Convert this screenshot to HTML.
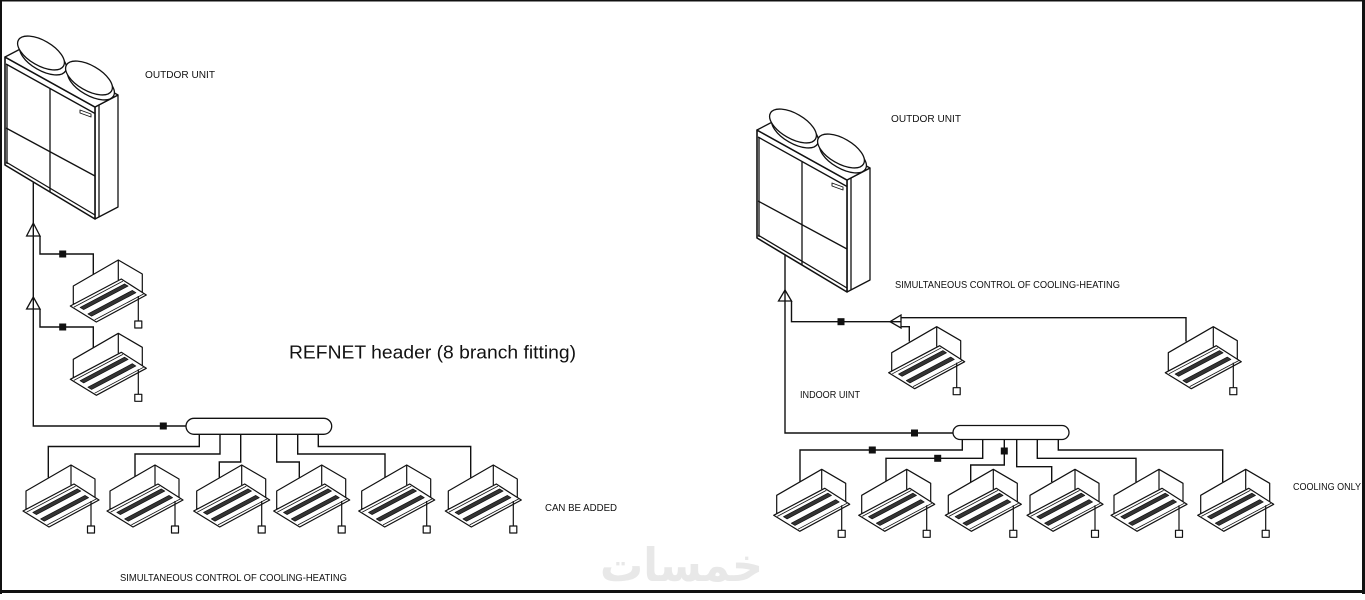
<!DOCTYPE html>
<html>
<head>
<meta charset="utf-8">
<style>
  html,body{margin:0;padding:0;background:#fff;}
  svg{display:block;}
  text{font-family:"Liberation Sans","DejaVu Sans",sans-serif;fill:#111;}
</style>
</head>
<body>
<svg width="1365" height="600" viewBox="0 0 1365 600" xmlns="http://www.w3.org/2000/svg">
  <rect x="0" y="0" width="1365" height="600" fill="#fff"/>
  <defs>
    <!-- Indoor (cassette) unit, origin = top vertex -->
    <g id="iu" stroke="#111" stroke-width="1.2" stroke-linejoin="round">
      <polygon points="-45,26 0,0 24,14 24,34 -45,44" fill="#fff"/>
      <line x1="0" y1="0" x2="0" y2="20" fill="none"/>
      <polygon points="-48,46 3,19 28,35 -22,62" fill="#fff"/>
      <line x1="-44.4" y1="47.1" x2="4.6" y2="21.1" stroke-width="0.8"/>
      <line x1="-23.6" y1="59.9" x2="25.4" y2="33.9" stroke-width="0.8"/>
      <polygon points="-38.2,47.4 6.2,23.9 9.8,26.1 -34.6,49.6" fill="#333" stroke-width="0.7"/>
      <polygon points="-30.4,53.9 14,30.4 17.6,32.7 -26.7,56.2" fill="#333" stroke-width="0.7"/>
      <line x1="20" y1="36" x2="20" y2="61" fill="none"/>
      <rect x="16.5" y="61" width="7" height="7" fill="#fff"/>
    </g>
    <!-- Outdoor unit -->
    <g id="ou" stroke="#111" stroke-width="1.3" stroke-linejoin="round" fill="#fff">
      <polygon points="95,107 118,95 118,207 95,219"/>
      <line x1="99" y1="105" x2="99" y2="217"/>
      <polygon points="5,57 95,107 95,219 5,165" stroke-width="1.6"/>
      <polygon points="5,57 28,45 118,95 95,107"/>
      <line x1="6" y1="64" x2="95" y2="113.5"/>
      <line x1="6" y1="162" x2="95" y2="215"/>
      <line x1="7" y1="64" x2="7" y2="164"/>
      <line x1="50" y1="89" x2="50" y2="191.5"/>
      <line x1="6" y1="128" x2="95" y2="176"/>
      <polygon points="80,110 91,114 91,117 80,113" stroke-width="0.9"/>
      <ellipse cx="43" cy="58" rx="26" ry="12.5" transform="rotate(30 43 58)"/>
      <ellipse cx="41" cy="53" rx="26" ry="12.5" transform="rotate(30 41 53)"/>
      <ellipse cx="91" cy="83" rx="26" ry="12.5" transform="rotate(30 91 83)"/>
      <ellipse cx="89" cy="78" rx="26" ry="12.5" transform="rotate(30 89 78)"/>
    </g>
  </defs>

  <!-- frame -->
  <rect x="0" y="0" width="2" height="594" fill="#111"/>
  <rect x="1362" y="0" width="3" height="594" fill="#111"/>
  <rect x="0" y="590" width="1365" height="3" fill="#111"/>
  <rect x="0" y="0" width="1365" height="1.5" fill="#111"/>

  <!-- watermark -->
  <text x="600" y="581" font-size="46" font-weight="bold" textLength="163" lengthAdjust="spacingAndGlyphs" style="fill:#e8e8e8;font-family:'DejaVu Sans',sans-serif;">خمسات</text>

  <!-- ============ LEFT SYSTEM ============ -->
  <g stroke="#111" stroke-width="1.4" fill="none">
    <polyline points="33.3,181 33.3,426 186,426"/>
    <polyline points="40,236 40,254 93.3,254 93.3,274.4"/>
    <polyline points="40,309 40,327 93.3,327 93.3,347.7"/>
    <polyline points="199.3,434 199.3,446.5 48.3,446.5 48.3,477.5"/>
    <polyline points="220,434 220,454 135,454 135,477.5"/>
    <polyline points="240.7,434 240.7,462 219.3,462 219.3,477.5"/>
    <polyline points="276.7,434 276.7,462 299.3,462 299.3,477.5"/>
    <polyline points="297.7,434 297.7,454 385,454 385,477.5"/>
    <polyline points="318.3,434 318.3,446.5 470.7,446.5 470.7,477.5"/>
  </g>
  <polygon points="33.3,223 40,236 26.6,236" fill="#fff" stroke="#111" stroke-width="1.3"/>
  <line x1="33.3" y1="223" x2="33.3" y2="236" stroke="#111" stroke-width="1.4"/>
  <polygon points="33.3,297 40,309 26.6,309" fill="#fff" stroke="#111" stroke-width="1.3"/>
  <line x1="33.3" y1="297" x2="33.3" y2="309" stroke="#111" stroke-width="1.4"/>
  <rect x="186" y="418.3" width="145.7" height="16" rx="8" ry="8" fill="#fff" stroke="#111" stroke-width="1.3"/>
  <g fill="#111">
    <rect x="59.2" y="250.5" width="7" height="7"/>
    <rect x="59.2" y="323.5" width="7" height="7"/>
    <rect x="159.8" y="422.5" width="7" height="7"/>
  </g>

  <use href="#ou"/>
  <use href="#iu" x="118.3" y="260"/>
  <use href="#iu" x="118.3" y="333.3"/>
  <use href="#iu" x="71" y="465"/>
  <use href="#iu" x="155" y="465"/>
  <use href="#iu" x="241.7" y="465"/>
  <use href="#iu" x="321.7" y="465"/>
  <use href="#iu" x="406.7" y="465"/>
  <use href="#iu" x="493.3" y="465"/>

  <text x="145" y="78" font-size="10" textLength="70" lengthAdjust="spacingAndGlyphs">OUTDOR UNIT</text>
  <text x="289" y="358.5" font-size="18" textLength="287" lengthAdjust="spacingAndGlyphs">REFNET header (8 branch fitting)</text>
  <text x="545" y="511" font-size="10" textLength="72" lengthAdjust="spacingAndGlyphs">CAN BE ADDED</text>
  <text x="120" y="581" font-size="10" textLength="227" lengthAdjust="spacingAndGlyphs">SIMULTANEOUS CONTROL OF COOLING-HEATING</text>

  <!-- ============ RIGHT SYSTEM ============ -->
  <g stroke="#111" stroke-width="1.4" fill="none">
    <polyline points="785,254 785,433 953,433"/>
    <polyline points="791.5,301 791.5,321.7 890,321.7"/>
    <polyline points="901,326.7 909.3,326.7 909.3,341.5"/>
    <polyline points="901,317.7 1186,317.7 1186,341.5"/>
    <polyline points="962.3,439 962.3,450 800,450 800,482"/>
    <polyline points="982.7,439 982.7,458.3 886,458.3 886,482"/>
    <polyline points="1004.3,439 1004.3,465 970.7,465 970.7,482"/>
    <polyline points="1016.7,439 1016.7,466.7 1051.7,466.7 1051.7,482"/>
    <polyline points="1037.3,439 1037.3,458.3 1136,458.3 1136,482"/>
    <polyline points="1058.3,439 1058.3,450 1222.7,450 1222.7,482"/>
  </g>
  <polygon points="785,290 791.5,301 778.5,301" fill="#fff" stroke="#111" stroke-width="1.3"/>
  <line x1="785" y1="290" x2="785" y2="301" stroke="#111" stroke-width="1.4"/>
  <polygon points="890,321.7 901,315 901,328" fill="#fff" stroke="#111" stroke-width="1.3"/>
  <line x1="890" y1="321.7" x2="901" y2="321.7" stroke="#111" stroke-width="1.4"/>
  <rect x="953" y="425.5" width="116" height="14" rx="7" ry="7" fill="#fff" stroke="#111" stroke-width="1.3"/>
  <g fill="#111">
    <rect x="837.5" y="318.2" width="7" height="7"/>
    <rect x="911" y="429.5" width="7" height="7"/>
    <rect x="868.8" y="446.5" width="7" height="7"/>
    <rect x="934.2" y="454.8" width="7" height="7"/>
    <rect x="1000.8" y="447.5" width="7" height="7"/>
  </g>

  <use href="#ou" transform="translate(752,73)"/>
  <use href="#iu" x="936.7" y="326.7"/>
  <use href="#iu" x="1213.3" y="326.7"/>
  <use href="#iu" x="821.7" y="469.3"/>
  <use href="#iu" x="906.7" y="469.3"/>
  <use href="#iu" x="993.3" y="469.3"/>
  <use href="#iu" x="1075" y="469.3"/>
  <use href="#iu" x="1159" y="469.3"/>
  <use href="#iu" x="1245.7" y="469.3"/>

  <text x="891" y="122" font-size="10" textLength="70" lengthAdjust="spacingAndGlyphs">OUTDOR UNIT</text>
  <text x="895" y="288" font-size="10" textLength="225" lengthAdjust="spacingAndGlyphs">SIMULTANEOUS CONTROL OF COOLING-HEATING</text>
  <text x="800" y="398" font-size="10.5" textLength="60" lengthAdjust="spacingAndGlyphs">INDOOR UINT</text>
  <text x="1293" y="490" font-size="10" textLength="68" lengthAdjust="spacingAndGlyphs">COOLING ONLY</text>
</svg>
</body>
</html>
